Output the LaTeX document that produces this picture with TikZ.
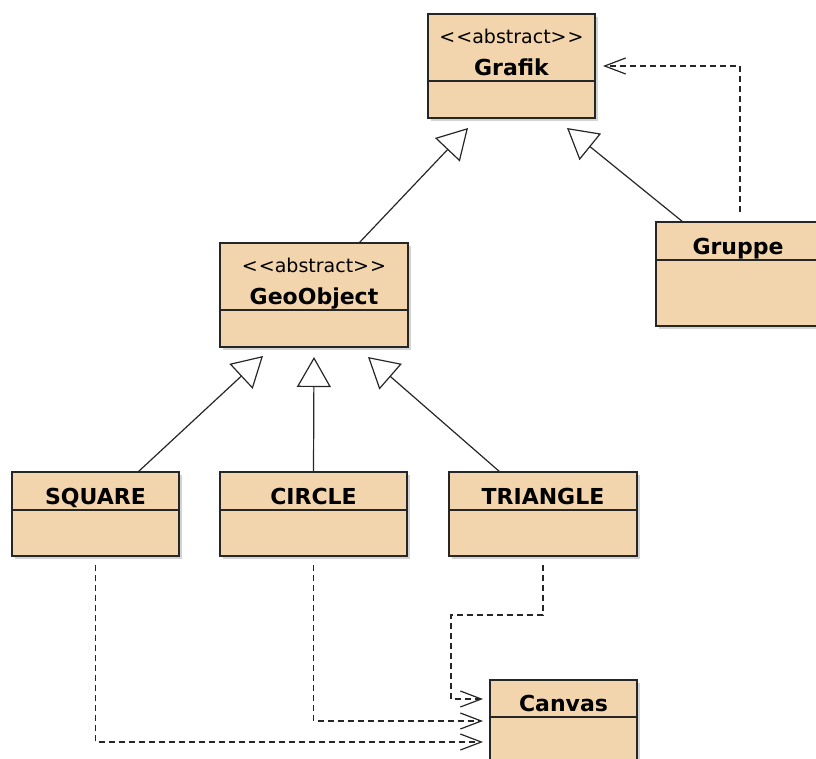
\documentclass[tikz,border=0pt]{standalone}
\usepackage{fontspec}
\setmainfont{DejaVu Sans}
\usetikzlibrary{positioning,arrows.meta,shadows}
\definecolor{classfill}{RGB}{242,213,172}
\tikzset{
	classhead/.style={draw=black!85, line width=1.5pt, fill=classfill, anchor=north west,
		minimum width=#1, inner sep=0pt, outer sep=0pt, align=center,
		font=\fontsize{22}{32}\selectfont\bfseries, text height=26pt, text depth=0pt,
		drop shadow={shadow xshift=3pt, shadow yshift=-3pt, fill=black!50, opacity=0.35}},
	abstracthead/.style={classhead=#1, text height=55pt, text depth=0pt},
	classbody/.style={draw=black!85, line width=1.5pt, fill=classfill,
		minimum width=#1, inner sep=0pt, outer sep=0pt,
		drop shadow={shadow xshift=3pt, shadow yshift=-3pt, fill=black!50, opacity=0.35}},
	inherit/.style={draw=black!85, line width=1.2pt, -{Triangle[open,length=30pt,width=34pt]}},
	depend/.style={draw=black!85, line width=1.2pt, dash pattern=on 6pt off 4pt,
		-{Straight Barb[length=21pt,width=16pt]}}
}
\newcommand{\stereo}{{\fontsize{19}{32}\selectfont\mdseries <\kern1pt<abstract>\kern1pt>}}

\begin{document}
\begin{tikzpicture}[x=1pt, y=-1pt]
	\useasboundingbox (0,0) rectangle (816,758);

	% abstract classes
	\node[abstracthead=167pt, minimum height=67pt] (grafik) at (428,14) {\stereo\\Grafik};
	\node[classbody=167pt, minimum height=37pt, below=0pt of grafik] (grafikB) {};
	\node[abstracthead=188pt, minimum height=67pt] (geo) at (220,243) {\stereo\\GeoObject};
	\node[classbody=188pt, minimum height=37pt, below=0pt of geo] (geoB) {};

	% concrete classes
	\node[classhead=164pt, minimum height=38pt] (gruppe) at (656,222) {Gruppe};
	\node[classbody=164pt, minimum height=66pt, below=0pt of gruppe] (gruppeB) {};
	\node[classhead=167pt, minimum height=38pt] (sq) at (12,472) {SQUARE};
	\node[classbody=167pt, minimum height=46pt, below=0pt of sq] (sqB) {};
	\node[classhead=187pt, minimum height=38pt] (ci) at (220,472) {CIRCLE};
	\node[classbody=187pt, minimum height=46pt, below=0pt of ci] (ciB) {};
	\node[classhead=188pt, minimum height=38pt] (tr) at (449,472) {TRIANGLE};
	\node[classbody=188pt, minimum height=46pt, below=0pt of tr] (trB) {};
	\node[classhead=147pt, minimum height=37pt] (canvas) at (490,680) {Canvas};
	\node[classbody=147pt, minimum height=46pt, below=0pt of canvas] (canvasB) {};

	% generalisation
	\draw[inherit] ([xshift=45pt]geo.north) -- ([shift={(40,10)}]grafikB.south west);
	\draw[inherit] ([xshift=27pt]gruppe.north west) -- ([shift={(139,10)}]grafikB.south west);
	\draw[inherit] ([xshift=126pt]sq.north west) -- ([shift={(43,9)}]geoB.south west);
	\draw[inherit] (ci.north) -- ([yshift=-10pt]geoB.south);
	\draw[inherit] ([xshift=51pt]tr.north west) -- ([shift={(148,10)}]geoB.south west);

	% dependencies
	\draw[depend] ([shift={(2,-10)}]gruppe.north) |- ([shift={(8,-15)}]grafik.south east);
	\draw[depend] ([yshift=-9pt]sqB.south) |- ([shift={(-7,25)}]canvasB.north west);
	\draw[depend] ([yshift=-9pt]ciB.south) |- ([shift={(-7,4)}]canvasB.north west);
	\draw[depend] ([yshift=-9pt]trB.south) |- ([shift={(-39,-65)}]canvas.north west)
		|- ([shift={(-7,19)}]canvas.north west);
\end{tikzpicture}
\end{document}
